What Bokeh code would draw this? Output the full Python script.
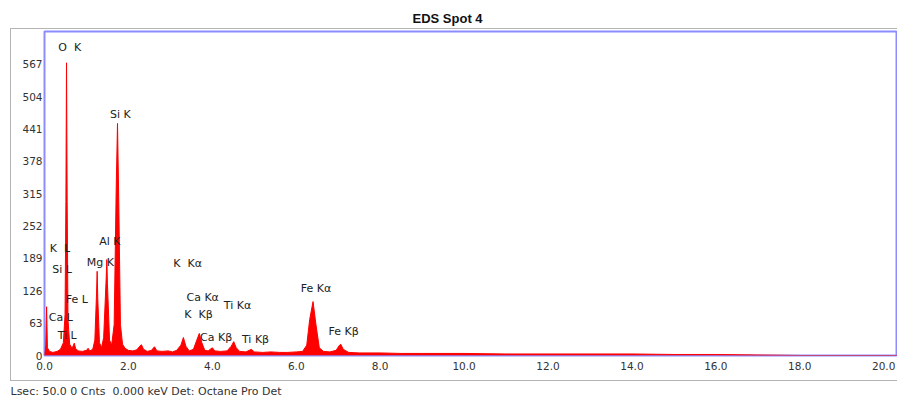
from bokeh.plotting import figure
from bokeh.models import Range1d, FixedTicker, ColumnDataSource, LabelSet, Title, InlineStyleSheet
from bokeh.core.properties import value
from bokeh.embed import file_html
from bokeh.resources import INLINE

# spectrum outline (keV, counts)
energy_kev = [0.00, 0.03, 0.05, 0.07, 0.12, 0.20, 0.30, 0.38, 0.45, 0.49, 0.51, 0.525, 0.54, 0.56,
              0.60, 0.65, 0.68, 0.71, 0.74, 0.80, 0.90, 1.00, 1.04, 1.08, 1.15, 1.20, 1.24, 1.255,
              1.27, 1.31, 1.36, 1.41, 1.47, 1.486, 1.50, 1.55, 1.60, 1.66, 1.71, 1.74, 1.77, 1.81,
              1.86, 1.92, 2.00, 2.10, 2.20, 2.27, 2.31, 2.36, 2.45, 2.55, 2.62, 2.68, 2.80, 2.95,
              3.05, 3.15, 3.25, 3.31, 3.37, 3.45, 3.55, 3.63, 3.69, 3.75, 3.82, 3.90, 4.00, 4.06,
              4.20, 4.35, 4.45, 4.51, 4.57, 4.65, 4.80, 4.93, 5.00, 5.20, 5.40, 5.60, 5.80, 6.00,
              6.15, 6.25, 6.32, 6.40, 6.47, 6.55, 6.65, 6.80, 6.95, 7.03, 7.06, 7.12, 7.25, 7.50,
              8.00, 8.50, 9.00, 10.0, 11.0, 12.0, 13.0, 14.0, 15.0, 16.0, 17.0, 18.0, 20.4]
counts = [0, 20, 95, 15, 8, 6, 8, 12, 25, 80, 300, 570, 300, 70,
          22, 15, 18, 24, 14, 9, 8, 10, 14, 9, 12, 30, 120, 164,
          110, 25, 15, 35, 150, 187, 140, 30, 20, 60, 330, 452, 300, 60,
          22, 14, 10, 9, 11, 18, 21, 12, 8, 10, 17, 9, 8, 9,
          7, 10, 20, 35, 18, 9, 12, 30, 43, 25, 10, 9, 15, 9,
          8, 9, 18, 27, 15, 8, 7, 12, 7, 6, 7, 6, 6, 7,
          8, 20, 70, 105, 60, 15, 8, 7, 10, 20, 22, 12, 6, 5,
          5, 4, 4, 4, 3, 3, 3, 3, 2, 2, 1, 0, 0]

# peak labels (keV, counts)
peak_names = ["O\u00a0 K", "Si K", "Al K", "Mg K", "K\u00a0 L", "Si L", "Fe L", "Ca L", "Ti L",
              "K\u00a0 K\u03b1", "Ca K\u03b1", "K\u00a0 K\u03b2", "Ti K\u03b1", "Ca K\u03b2",
              "Ti K\u03b2", "Fe K\u03b1", "Fe K\u03b2"]
peak_x = [0.60, 1.81, 1.56, 1.33, 0.37, 0.42, 0.77, 0.39, 0.54,
          3.41, 3.77, 3.67, 4.60, 4.09, 5.03, 6.47, 7.13]
peak_y = [600, 470, 222, 181, 209, 168, 109, 74, 39,
          179, 113, 80, 97, 35, 31, 131, 47]

y_ticks = [0, 63, 126, 189, 252, 315, 378, 441, 504, 567]
x_ticks = [0, 2, 4, 6, 8, 10, 12, 14, 16, 18, 20]

title_text = "EDS Spot 4"
status_text = "Lsec: 50.0 0 Cnts\u00a0 0.000 keV Det: Octane Pro Det"

W, H = 897, 407
FL, FT, FB = 44, 31, 52          # frame borders (left, top, bottom)

p = figure(width=W, height=H, output_backend="svg", toolbar_location=None,
           x_range=Range1d(0, 20.33), y_range=Range1d(0, 631),
           min_border_left=FL, min_border_top=FT, min_border_bottom=FB, min_border_right=0)
p.grid.visible = False
p.outline_line_color = "#8c8cff"
p.outline_line_width = 2
p.background_fill_color = "white"
p.border_fill_color = "white"

p.title.text = title_text
p.title.align = "left"
p.title.offset = 368
p.title.standoff = 12
p.title.text_font = "Liberation Sans"
p.title.text_font_style = "bold"
p.title.text_font_size = "13px"
p.title.text_color = "#111111"

p.varea(x=energy_kev, y1=0, y2=counts, fill_color="#ff0000")
p.line(x=energy_kev, y=counts, line_color="#ff0000", line_width=1)

for ax in (p.xaxis[0], p.yaxis[0]):
    ax.axis_line_color = None
    ax.major_tick_line_color = None
    ax.minor_tick_line_color = None
    ax.major_tick_out = 0
    ax.major_tick_in = 0
    ax.minor_tick_out = 0
    ax.minor_tick_in = 0
    ax.major_label_text_font = "DejaVu Sans"
    ax.major_label_text_font_size = "10.5px"
    ax.major_label_text_color = "#333333"
p.xaxis[0].ticker = FixedTicker(ticks=x_ticks)
p.xaxis[0].major_label_overrides = {t: f"{t:.1f}" for t in x_ticks}
p.xaxis[0].major_label_standoff = 6
p.yaxis[0].ticker = FixedTicker(ticks=y_ticks)
p.yaxis[0].major_label_standoff = 2

src = ColumnDataSource(dict(x=peak_x, y=peak_y, t=peak_names))
p.add_layout(LabelSet(x="x", y="y", text="t", source=src, text_align="center",
                      text_baseline="middle", text_font_size=value("11px"),
                      text_font=value("DejaVu Sans"), text_color="#222222"))

status = Title(text=status_text, align="left", offset=-34, standoff=20,
               text_font="DejaVu Sans", text_font_style="normal", text_font_size="11px",
               text_color="#333333")
p.add_layout(status, "below")

# outer gray panel frame (drawn with CSS around the plotting area)
p.stylesheets = [InlineStyleSheet(css="""
:host::after {
  content: "";
  position: absolute;
  left: 10px;
  top: 28px;
  width: 895px;
  height: 353px;
  border-left: 1.5px solid #b4b4b4;
  border-top: 1.5px solid #b4b4b4;
  border-bottom: 1.5px solid #b4b4b4;
  pointer-events: none;
  box-sizing: border-box;
}
""")]

open("out.html", "w").write(file_html(p, INLINE))
